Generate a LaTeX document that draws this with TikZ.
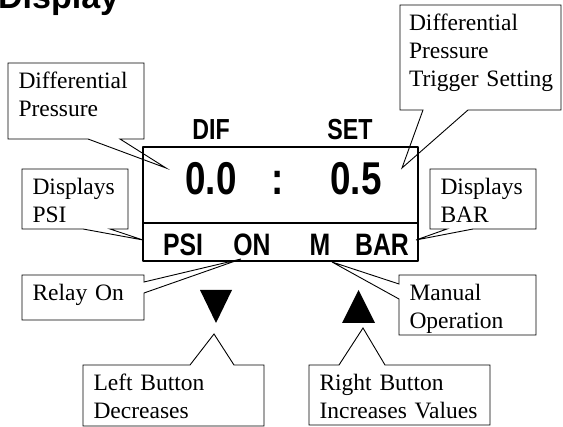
\documentclass[tikz,border=0pt]{standalone}
\usepackage{fontspec}
\setmainfont{Liberation Serif}
\newfontfamily\headfont{Liberation Sans Bold}
\newfontfamily\lcdfont[FakeStretch=0.8]{Liberation Sans Bold}
\usetikzlibrary{calc,positioning}
\tikzset{
  note/.style={anchor=north west, align=left, inner xsep=10.5pt, inner ysep=0pt,
    outer sep=0pt, text height=26pt, font=\fontsize{23.5}{28}\selectfont},
  outline/.style={draw, line width=0.9pt, line join=miter},
  lcd/.style={anchor=north west, draw, line width=1.2pt, inner sep=0pt, outer sep=0pt},
  lcdtext/.style={anchor=base, inner sep=0pt, font=\lcdfont\fontsize{#1}{#1}\selectfont},
}

\begin{document}
\begin{tikzpicture}[x=1pt, y=-1pt, line cap=round, line join=round]
  \useasboundingbox (0,0) rectangle (563,427);
  \node[anchor=base west, inner sep=0pt, font=\headfont\fontsize{34}{34}\selectfont] (title) at (-2,9) {Display};

  % display panel
  \node[lcd, minimum width=275pt, minimum height=76pt] (disp) at (143,147) {};
  \node[lcd, minimum width=275pt, minimum height=38pt] (units) at (disp.south west) {};
  \node[lcdtext=29] (dif) at (211,140) {DIF};
  \node[lcdtext=29] (set) at (350,140) {SET};
  \node[lcdtext=46] (dval) at (211,195) {0.0};
  \node[lcdtext=46] (colon) at (278,195) {:};
  \node[lcdtext=46] (sval) at (356,195) {0.5};
  \node[lcdtext=31] (psi) at (183,256) {PSI};
  \node[lcdtext=31] (on) at (252,256) {ON};
  \node[lcdtext=31] (m) at (320,256) {M};
  \node[lcdtext=31] (bar) at (382,256) {BAR};

  % buttons
  \fill (200,290) -- (232,290) -- (216,323) -- cycle;
  \fill (342,323) -- (375,323) -- (358.5,290) -- cycle;

  % pointer tips
  \coordinate (dptip) at (166,168);
  \coordinate (trigtip) at (402,168);
  \coordinate (psitip) at (143,240);
  \coordinate (bartip) at (416,240);
  \coordinate (relaytip) at (241,259);
  \coordinate (manualtip) at (332,262);
  \coordinate (lbtntip) at (214,334);
  \coordinate (rbtntip) at (363,328);

  % callouts
  \node[note, text width=115pt, text depth=50pt] (dp) at (8,63) {Differential\\Pressure};
  \draw[outline] (dp.south west) |- (dp.north east) |- ($(dp.south west)+(112,0)$)
    -- (dptip) -- ($(dp.south west)+(80,0)$) -- cycle;

  \node[note, text width=143pt, inner xsep=9pt, text depth=79pt] (trig) at (400,5) {Differential\\Pressure\\\mbox{Trigger Setting}};
  \draw[outline] (trig.south west) |- (trig.north east) |- ($(trig.south west)+(68,0)$)
    -- (trigtip) -- ($(trig.south west)+(23,0)$) -- cycle;

  \node[note, text width=85pt, text depth=34pt] (psibox) at (22,169) {Displays\\PSI};
  \draw[outline] (psibox.south west) |- (psibox.north east) |- ($(psibox.south west)+(88,0)$)
    -- (psitip) -- ($(psibox.south west)+(61,0)$) -- cycle;

  \node[note, text width=85pt, text depth=34pt] (barbox) at (430,169) {Displays\\BAR};
  \draw[outline] (barbox.south west) |- (barbox.north east) |- ($(barbox.south west)+(43,0)$)
    -- (bartip) -- ($(barbox.south west)+(17,0)$) -- cycle;

  \node[note, text width=101pt, text depth=19pt] (relay) at (22,275) {Relay On};
  \draw[outline] ($(relay.north east)+(0,7)$) -- (relaytip) -- ($(relay.north east)+(0,18)$)
    |- (relay.south west) |- (relay.north east) -- cycle;

  \node[note, text width=116pt, text depth=34pt] (manual) at (399,275) {Manual\\Operation};
  \draw[outline] ($(manual.north west)+(0,9)$) -- (manualtip) -- ($(manual.north west)+(0,24)$)
    |- (manual.south east) |- (manual.north west) -- cycle;

  \node[note, text width=160pt, text depth=35pt] (lbtn) at (83,365) {Left Button\\Decreases};
  \draw[outline] ($(lbtn.north west)+(107,0)$) -- (lbtntip) -- ($(lbtn.north west)+(151,0)$)
    -| (lbtn.south east) -| (lbtn.north west) -- cycle;

  \node[note, text width=160pt, text depth=34pt] (rbtn) at (309,365) {Right Button\\Increases Values};
  \draw[outline] ($(rbtn.north west)+(30,0)$) -- (rbtntip) -- ($(rbtn.north west)+(76,0)$)
    -| (rbtn.south east) -| (rbtn.north west) -- cycle;
\end{tikzpicture}
\end{document}
